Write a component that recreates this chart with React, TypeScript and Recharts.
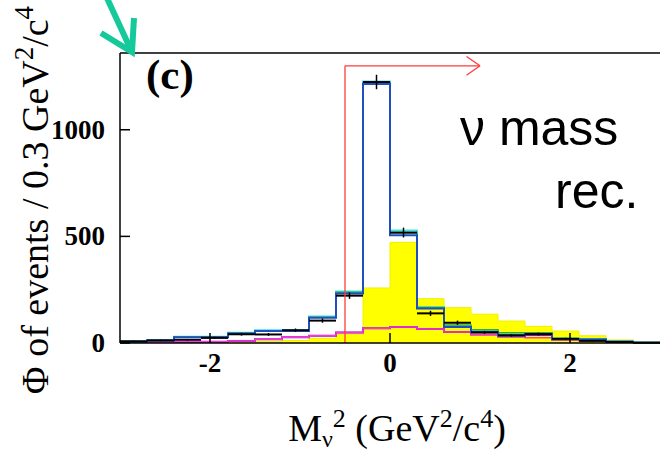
import React from 'react';
import { ComposedChart, Line, Area, Scatter, ErrorBar, XAxis, YAxis, ReferenceLine } from 'recharts';

// bin edges (0.3 GeV^2/c^4 wide) and bin centres
const binEdges = [-3, -2.7, -2.4, -2.1, -1.8, -1.5, -1.2, -0.9, -0.6, -0.3, 0, 0.3, 0.6, 0.9, 1.2, 1.5, 1.8, 2.1, 2.4, 2.7, 3];
const binCenters = [-2.85, -2.55, -2.25, -1.95, -1.65, -1.35, -1.05, -0.75, -0.45, -0.15, 0.15, 0.45, 0.75, 1.05, 1.35, 1.65, 1.95, 2.25, 2.55, 2.85];

// measured data and its errors
const dataCounts = [8, 12, 15, 24, 41, 40, 60, 105, 222, 1224, 518, 139, 95, 50, 36, 42, 20, 10, 5, 1];
const dataErrors = [3, 3.5, 4, 5, 6.5, 6.5, 8, 10, 15, 34, 23, 12, 10, 7, 6, 6.5, 4.5, 3, 2, 1];

// MC histograms
const mcTotal = [6, 12, 27, 27, 45, 56, 56, 119, 232, 1215, 505, 162, 75, 52, 35, 42, 18, 16, 6, 1];
const mcCyan = [7, 14, 29, 29, 48, 60, 60, 124, 242, 1226, 528, 168, 80, 56, 40, 46, 21, 19, 8, 2];
const mcGreen = [6, 13, 28, 28, 46, 58, 58, 121, 238, 1220, 516, 166, 85, 62, 48, 48, 20, 18, 7, 1];
const bkgYellow = [2, 2, 3, 4, 5, 8, 12, 22, 42, 258, 472, 208, 166, 135, 103, 78, 56, 34, 14, 6];
const bkgMagenta = [3, 3, 6, 6, 9, 18, 27, 34, 49, 69, 75, 66, 52, 40, 31, 25, 14, 10, 5, 2];
const bkgPurple = [2, 2, 2, 6, 9, 18, 27, 34, 49, 69, 75, 66, 52, 40, 30, 37, 16, 14, 5, 1];

const xTicks = [-2, 0, 2];
const yTicks = [0, 500, 1000];

const SERIF = '"Liberation Serif", "Times New Roman", serif';
const SANS = '"Liberation Sans", Arial, sans-serif';

const histRows = binEdges.map((x, i) => {
  const k = Math.min(i, binCenters.length - 1);
  return {
    x,
    mc: mcTotal[k],
    cyan: mcCyan[k],
    green: mcGreen[k],
    yellow: bkgYellow[k],
    magenta: bkgMagenta[k],
    purple: bkgPurple[k],
  };
});

const pointRows = binCenters.map((x, i) => ({ x, y: dataCounts[i], ex: 0.15, ey: dataErrors[i] }));

const XTick = (props: any) => {
  const { x, y, payload } = props;
  return (
    <g>
      <line x1={x} x2={x} y1={y} y2={y - 10} stroke="#000" strokeWidth={1.5} />
      <text x={x} y={y + 29} textAnchor="middle" fontFamily={SERIF} fontWeight="bold" fontSize={27} fill="#000">
        {String(payload.value)}
      </text>
    </g>
  );
};

const YTick = (props: any) => {
  const { x, y, payload } = props;
  return (
    <g>
      <line x1={x} x2={x + 10} y1={y} y2={y} stroke="#000" strokeWidth={1.5} />
      <text x={x - 15} y={y + 9} textAnchor="end" fontFamily={SERIF} fontWeight="bold" fontSize={27} fill="#000">
        {String(payload.value)}
      </text>
    </g>
  );
};

const RED = '#ff3b3b';

export default function App() {
  return (
    <div style={{ position: 'absolute', left: 0, top: 0, width: 660, height: 452, background: '#fff', overflow: 'hidden' }}>
      <ComposedChart width={660} height={452} data={histRows} margin={{ top: 53, right: 0, bottom: 0, left: 0 }}>
        <XAxis
          dataKey="x"
          type="number"
          domain={[-3, 3]}
          ticks={xTicks}
          allowDataOverflow
          height={109}
          tickSize={0}
          tickMargin={0}
          axisLine={{ stroke: '#000', strokeWidth: 1.5 }}
          tickLine={false}
          tick={(p: any) => <XTick {...p} />}
          interval={0}
        />
        <YAxis
          type="number"
          domain={[0, 1360]}
          ticks={yTicks}
          allowDataOverflow
          width={120}
          tickSize={0}
          tickMargin={0}
          axisLine={{ stroke: '#000', strokeWidth: 1.5 }}
          tickLine={false}
          tick={(p: any) => <YTick {...p} />}
          interval={0}
        />
        <ReferenceLine y={1360} stroke="#000" strokeWidth={1.5} />
        <Area type="stepAfter" dataKey="yellow" fill="#ffff00" fillOpacity={1} stroke="#f0f000" strokeWidth={1} isAnimationActive={false} />
        <Line type="stepAfter" dataKey="purple" stroke="#7a1fa0" strokeWidth={2} dot={false} isAnimationActive={false} />
        <Line type="stepAfter" dataKey="magenta" stroke="#ff33dd" strokeWidth={1.5} dot={false} isAnimationActive={false} />
        <Line type="stepAfter" dataKey="cyan" stroke="#38e6e6" strokeWidth={2} dot={false} isAnimationActive={false} />
        <Line type="stepAfter" dataKey="green" stroke="#3aa845" strokeWidth={1.5} dot={false} isAnimationActive={false} />
        <Line type="stepAfter" dataKey="mc" stroke="#1f4fbf" strokeWidth={2} dot={false} isAnimationActive={false} />
        <Scatter data={pointRows} dataKey="y" fill="#000" shape={() => <g />} isAnimationActive={false}>
          <ErrorBar dataKey="ex" direction="x" width={0} stroke="#000" strokeWidth={2} isAnimationActive={false} />
          <ErrorBar dataKey="ey" direction="y" width={0} stroke="#000" strokeWidth={1.5} isAnimationActive={false} />
        </Scatter>
        <ReferenceLine segment={[{ x: -0.5, y: 0 }, { x: -0.5, y: 1300 }]} stroke={RED} strokeWidth={1.3} />
        <ReferenceLine segment={[{ x: -0.5, y: 1300 }, { x: 1.0, y: 1300 }]} stroke={RED} strokeWidth={1.3} />
        <ReferenceLine segment={[{ x: 0.85, y: 1344 }, { x: 1.0, y: 1300 }]} stroke={RED} strokeWidth={1.3} />
        <ReferenceLine segment={[{ x: 0.85, y: 1256 }, { x: 1.0, y: 1300 }]} stroke={RED} strokeWidth={1.3} />
      </ComposedChart>
      <svg width={660} height={452} style={{ position: 'absolute', left: 0, top: 0, pointerEvents: 'none' }}>
        <line x1={106} y1={-4} x2={131} y2={50} stroke="#16c99b" strokeWidth={6} />
        <polyline points="101,33 132,52 134,18" fill="none" stroke="#16c99b" strokeWidth={6} strokeLinejoin="miter" />
        <text x={146} y={89} fontFamily={SERIF} fontWeight="bold" fontSize={43} fill="#000">(c)</text>
        <text x={460} y={145} fontFamily={SANS} fontSize={50} fill="#000">ν mass</text>
        <text x={555} y={208} fontFamily={SANS} fontSize={50} fill="#000">rec.</text>
        <text
          x={48}
          y={200}
          transform="rotate(-90 48 200)"
          textAnchor="middle"
          fontFamily={SERIF}
          fontSize={38}
          fill="#000"
        >
          Φ of events / 0.3 GeV<tspan dy={-15} fontSize={27}>2</tspan>
          <tspan dy={15}>/c</tspan>
          <tspan dy={-15} fontSize={27}>4</tspan>
        </text>
        <text x={397} y={441} textAnchor="middle" fontFamily={SERIF} fontSize={38} fill="#000">
          M<tspan dy={6} fontSize={24}>ν</tspan>
          <tspan dy={-20} fontSize={26}>2</tspan>
          <tspan dy={14}> (GeV</tspan>
          <tspan dy={-14} fontSize={26}>2</tspan>
          <tspan dy={14}>/c</tspan>
          <tspan dy={-14} fontSize={26}>4</tspan>
          <tspan dy={14}>)</tspan>
        </text>
      </svg>
    </div>
  );
}
